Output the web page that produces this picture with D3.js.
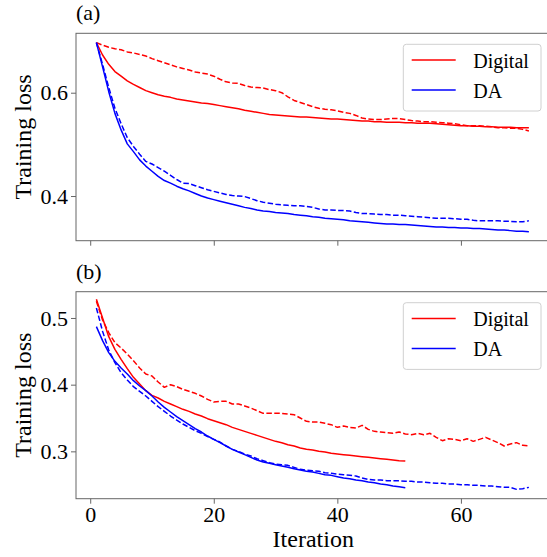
<!DOCTYPE html>
<html>
<head>
<meta charset="utf-8">
<script src="https://cdn.jsdelivr.net/npm/d3@7"></script>
<style>
  html, body { margin: 0; padding: 0; background: #fff; }
  svg { display: block; }
  svg text { font-family: "Liberation Serif", "Times New Roman", "DejaVu Serif", serif !important; fill: #000; }
</style>
</head>
<body>
<div id="chart"></div>
<script>
// ---------------- DATA ----------------
const seriesNames = ["Digital", "DA"];
const seriesColors = ["#ff0000", "#0000ff"];
const xTicks = [0, 20, 40, 60];
const yTicksA = [0.4, 0.6];
const yTicksB = [0.3, 0.4, 0.5];
const panelLabels = ["(a)", "(b)"];
const xLabel = "Iteration";
const yLabel = "Training loss";

// Panel (a): iterations 1..71
const aDigitalSolid = [0.697,0.673,0.655,0.641,0.632,0.623,0.616,0.610,0.604,0.600,
  0.596,0.593,0.591,0.588,0.586,0.584,0.582,0.580,0.579,0.577,
  0.575,0.573,0.571,0.569,0.566,0.564,0.562,0.560,0.558,0.557,
  0.556,0.555,0.554,0.553,0.553,0.552,0.551,0.550,0.549,0.549,
  0.548,0.547,0.546,0.545,0.545,0.544,0.544,0.543,0.543,0.543,
  0.542,0.542,0.541,0.541,0.541,0.540,0.539,0.538,0.537,0.536,
  0.536,0.535,0.535,0.534,0.534,0.533,0.533,0.533,0.532,0.532,0.532];
const aDigitalDashed = [0.697,0.692,0.688,0.685,0.683,0.679,0.677,0.674,0.671,0.666,
  0.662,0.658,0.654,0.650,0.647,0.644,0.640,0.638,0.636,0.632,
  0.626,0.621,0.619,0.618,0.614,0.611,0.610,0.609,0.606,0.604,
  0.600,0.592,0.585,0.581,0.577,0.573,0.570,0.568,0.567,0.565,
  0.562,0.560,0.556,0.551,0.549,0.548,0.548,0.549,0.550,0.550,
  0.548,0.546,0.545,0.544,0.544,0.543,0.542,0.541,0.540,0.538,
  0.536,0.536,0.536,0.535,0.534,0.532,0.532,0.531,0.531,0.529,0.526];
const aDASolid = [0.697,0.650,0.602,0.560,0.528,0.501,0.486,0.470,0.458,0.448,
  0.438,0.430,0.425,0.419,0.414,0.410,0.405,0.400,0.396,0.393,
  0.390,0.387,0.384,0.381,0.378,0.376,0.373,0.371,0.370,0.368,
  0.367,0.366,0.364,0.363,0.362,0.360,0.359,0.357,0.356,0.355,
  0.354,0.352,0.351,0.350,0.349,0.348,0.347,0.346,0.346,0.345,
  0.345,0.344,0.343,0.342,0.341,0.340,0.340,0.339,0.339,0.338,
  0.338,0.337,0.337,0.336,0.335,0.334,0.334,0.333,0.332,0.332,0.331];
const aDADashed = [0.697,0.655,0.610,0.570,0.540,0.513,0.496,0.481,0.467,0.462,
  0.455,0.448,0.440,0.432,0.425,0.424,0.420,0.416,0.412,0.409,
  0.406,0.403,0.401,0.400,0.399,0.395,0.391,0.388,0.386,0.384,
  0.383,0.382,0.381,0.381,0.380,0.378,0.375,0.373,0.373,0.372,
  0.372,0.371,0.368,0.366,0.366,0.365,0.364,0.364,0.363,0.363,
  0.362,0.361,0.360,0.359,0.358,0.357,0.357,0.357,0.356,0.355,
  0.355,0.353,0.352,0.352,0.352,0.352,0.351,0.351,0.350,0.350,0.352];

// Panel (b): solid 1..51, dashed 1..71
const bDigitalSolid = [0.528,0.500,0.472,0.453,0.438,0.424,0.411,0.401,0.391,0.384,
  0.380,0.375,0.371,0.367,0.363,0.360,0.356,0.353,0.349,0.346,
  0.343,0.340,0.336,0.333,0.330,0.327,0.324,0.321,0.318,0.315,
  0.313,0.310,0.308,0.305,0.303,0.302,0.300,0.299,0.297,0.296,
  0.295,0.294,0.293,0.292,0.291,0.290,0.289,0.288,0.287,0.286,0.2855];
const bDigitalDashed = [0.525,0.497,0.478,0.463,0.455,0.446,0.436,0.425,0.416,0.413,
  0.404,0.396,0.400,0.397,0.393,0.390,0.387,0.383,0.378,0.374,
  0.375,0.375,0.371,0.371,0.368,0.365,0.361,0.357,0.357,0.357,
  0.357,0.356,0.355,0.350,0.345,0.344,0.344,0.342,0.340,0.336,
  0.338,0.336,0.335,0.339,0.333,0.330,0.329,0.328,0.327,0.329,
  0.326,0.325,0.327,0.325,0.327,0.321,0.316,0.319,0.318,0.316,
  0.319,0.315,0.318,0.321,0.317,0.313,0.308,0.311,0.313,0.309,0.308];
const bDASolid = [0.487,0.466,0.448,0.435,0.425,0.416,0.406,0.398,0.391,0.383,
  0.374,0.366,0.359,0.352,0.346,0.340,0.334,0.329,0.323,0.318,
  0.313,0.308,0.303,0.299,0.295,0.291,0.287,0.284,0.282,0.280,
  0.278,0.276,0.274,0.272,0.270,0.269,0.267,0.265,0.264,0.262,
  0.260,0.259,0.257,0.256,0.254,0.253,0.251,0.250,0.248,0.247,0.2455];
const bDADashed = [0.515,0.480,0.452,0.433,0.418,0.407,0.397,0.390,0.383,0.375,
  0.367,0.360,0.353,0.347,0.341,0.336,0.331,0.327,0.322,0.318,
  0.314,0.308,0.303,0.300,0.296,0.293,0.289,0.286,0.283,0.281,
  0.280,0.279,0.276,0.273,0.272,0.271,0.270,0.268,0.267,0.266,
  0.265,0.264,0.263,0.260,0.258,0.257,0.257,0.256,0.256,0.256,
  0.255,0.255,0.254,0.254,0.253,0.252,0.252,0.251,0.251,0.250,
  0.250,0.249,0.249,0.248,0.248,0.247,0.246,0.246,0.243,0.244,0.246];

// ---------------- LAYOUT ----------------
const W = 547, H = 557;
const plotLeft = 76, plotRight = 550.5;
const FONT = "'Liberation Serif', 'Times New Roman', 'DejaVu Serif', serif";
const panels = [
  { top: 33.3, bottom: 240.7, domain: [0.3135, 0.715], yTicks: yTicksA, label: panelLabels[0],
    series: [[aDigitalSolid, 0, false], [aDigitalDashed, 0, true], [aDASolid, 1, false], [aDADashed, 1, true]],
    showXLabels: false },
  { top: 291.7, bottom: 498.7, domain: [0.229, 0.5394], yTicks: yTicksB, label: panelLabels[1],
    series: [[bDigitalSolid, 0, false], [bDigitalDashed, 0, true], [bDASolid, 1, false], [bDADashed, 1, true]],
    showXLabels: true }
];

const svg = d3.select("#chart").append("svg").attr("width", W).attr("height", H)
  .style("font-family", FONT);
const x = d3.scaleLinear().domain([-2.3, 74.5]).range([plotLeft, plotRight]);
const axisColor = "#666";

panels.forEach((p, pi) => {
  const y = d3.scaleLinear().domain(p.domain).range([p.bottom, p.top]);
  const g = svg.append("g");
  const clipId = "clip" + pi;
  svg.append("clipPath").attr("id", clipId).append("rect")
    .attr("x", plotLeft).attr("y", p.top).attr("width", plotRight - plotLeft).attr("height", p.bottom - p.top);

  // Lines
  const line = d3.line().x((d, i) => x(i + 1)).y(d => y(d));
  const lg = g.append("g").attr("clip-path", `url(#${clipId})`);
  p.series.forEach(([vals, ci, dashed]) => {
    lg.append("path").datum(vals)
      .attr("d", line)
      .attr("fill", "none")
      .attr("stroke", seriesColors[ci])
      .attr("stroke-width", 1.5)
      .attr("stroke-linejoin", "round")
      .attr("stroke-dasharray", dashed ? "5.5,2.4" : null);
  });

  // Frame
  g.append("rect").attr("x", plotLeft).attr("y", p.top)
    .attr("width", plotRight - plotLeft).attr("height", p.bottom - p.top)
    .attr("fill", "none").attr("stroke", axisColor).attr("stroke-width", 1);

  // X axis
  const xAxis = d3.axisBottom(x).tickValues(xTicks).tickSize(5).tickPadding(3)
    .tickFormat(p.showXLabels ? d3.format("d") : () => "");
  const xg = g.append("g").attr("transform", `translate(0,${p.bottom})`).call(xAxis);
  xg.attr("font-family", FONT);
  xg.select(".domain").remove();
  xg.selectAll(".tick line").attr("stroke", axisColor);
  xg.selectAll(".tick text").attr("font-size", 22).style("font-family", FONT).attr("fill", "#000");

  // Y axis
  const yAxis = d3.axisLeft(y).tickValues(p.yTicks).tickSize(5).tickPadding(3).tickFormat(d3.format(".1f"));
  const yg = g.append("g").attr("transform", `translate(${plotLeft},0)`).call(yAxis);
  yg.attr("font-family", FONT);
  yg.select(".domain").remove();
  yg.selectAll(".tick line").attr("stroke", axisColor);
  yg.selectAll(".tick text").attr("font-size", 22).style("font-family", FONT).attr("fill", "#000");

  // Y label
  const cy = (p.top + p.bottom) / 2;
  g.append("text").attr("transform", `translate(31,${cy}) rotate(-90)`)
    .attr("text-anchor", "middle").attr("font-size", 24).style("font-family", FONT).text(yLabel);

  // Panel label
  g.append("text").attr("x", plotLeft).attr("y", p.top - 13)
    .attr("font-size", 22).style("font-family", FONT).text(p.label);

  // Legend
  const lgx = 403.3, lgy = p.top + 11, lw = 137.7, lh = 66.7;
  const leg = g.append("g");
  leg.append("rect").attr("x", lgx).attr("y", lgy).attr("width", lw).attr("height", lh)
    .attr("rx", 3).attr("fill", "#fff").attr("fill-opacity", 0.8).attr("stroke", "#d0d0d0").attr("stroke-width", 1);
  seriesNames.forEach((name, i) => {
    const ly = lgy + 15.7 + i * 30;
    leg.append("line").attr("x1", 411.7).attr("x2", 455.7).attr("y1", ly).attr("y2", ly)
      .attr("stroke", seriesColors[i]).attr("stroke-width", 1.5);
    leg.append("text").attr("x", 473.3).attr("y", ly + 8).attr("font-size", 20)
      .style("font-family", FONT).text(name);
  });
});

// X label
svg.append("text").attr("x", (plotLeft + plotRight) / 2).attr("y", 547)
  .attr("text-anchor", "middle").attr("font-size", 24).style("font-family", FONT).text(xLabel);
</script>
</body>
</html>
